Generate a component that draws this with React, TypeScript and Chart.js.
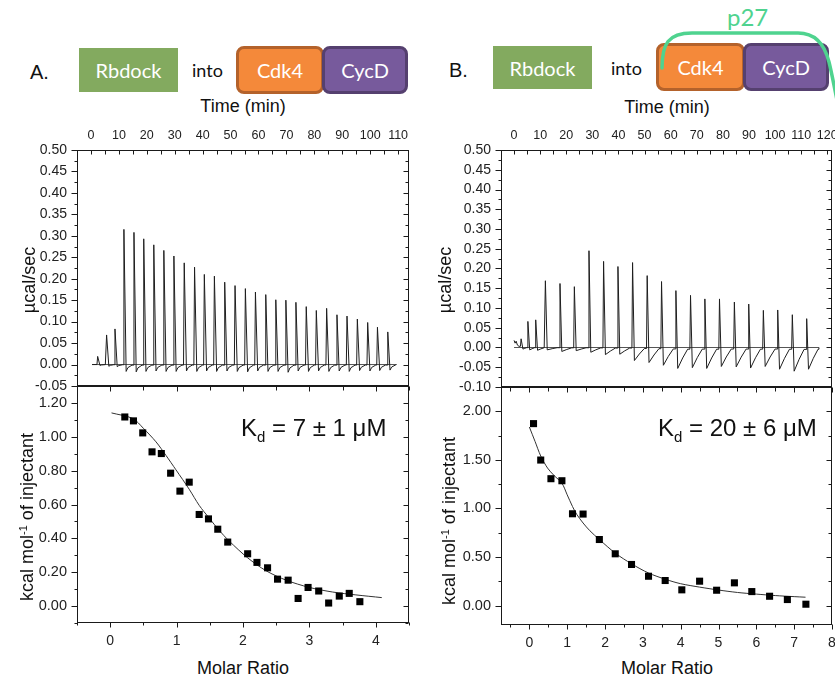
import React, { useEffect, useRef } from "react";
import { Chart, registerables } from "chart.js";

Chart.register(...registerables);

// ---------------- DATA ----------------
// Tick labels
const timeTicksA = [0, 10, 20, 30, 40, 50, 60, 70, 80, 90, 100, 110];
const timeTicksB = [0, 10, 20, 30, 40, 50, 60, 70, 80, 90, 100, 110, 120];
const powerTicksA = [-0.05, 0, 0.05, 0.1, 0.15, 0.2, 0.25, 0.3, 0.35, 0.4, 0.45, 0.5];
const powerTicksB = [-0.1, -0.05, 0, 0.05, 0.1, 0.15, 0.2, 0.25, 0.3, 0.35, 0.4, 0.45, 0.5];
const heatTicksA = [0, 0.2, 0.4, 0.6, 0.8, 1.0, 1.2];
const heatTicksB = [0, 0.5, 1.0, 1.5, 2.0];
const ratioTicksA = [0, 1, 2, 3, 4];
const ratioTicksB = [0, 1, 2, 3, 4, 5, 6, 7, 8];

// Panel A thermogram (time in min, peak heights in µcal/sec)
const traceStartA = 0.4;
const traceEndA = 109.4;
const injTimesA = [2.3, 5.5, 8.5, 11.7, 15.3, 18.8, 22.4, 26.0, 29.6, 33.3, 37.0, 40.5, 44.1, 47.8, 51.5, 55.2, 58.8, 62.5, 66.1, 69.7, 73.3, 77.0, 80.6, 84.3, 88.0, 91.6, 95.3, 99.0, 102.5, 106.2];
const peakHeightsA = [0.019, 0.069, 0.083, 0.315, 0.308, 0.293, 0.279, 0.266, 0.253, 0.237, 0.227, 0.21, 0.206, 0.192, 0.184, 0.177, 0.169, 0.163, 0.151, 0.15, 0.145, 0.135, 0.126, 0.131, 0.116, 0.113, 0.106, 0.098, 0.087, 0.076];
const dipDepthsA = [-0.002, -0.004, -0.005, -0.016, -0.017, -0.016, -0.015, -0.016, -0.016, -0.015, -0.016, -0.015, -0.016, -0.015, -0.016, -0.017, -0.015, -0.016, -0.016, -0.018, -0.015, -0.016, -0.015, -0.016, -0.015, -0.016, -0.014, -0.015, -0.014, -0.013];

// Panel B thermogram
const traceEndB = 116.8;
const preTimesB = [0.0, 0.4, 0.8, 1.3, 1.9];
const preValuesB = [0.018, 0.011, 0.016, 0.006, 0.003];
const injTimesB = [2.6, 5.2, 8.2, 11.9, 17.5, 23.0, 28.6, 34.2, 39.7, 45.3, 50.9, 56.4, 61.9, 67.5, 73.0, 78.6, 84.3, 89.8, 95.4, 100.9, 106.5, 112.0];
const peakHeightsB = [0.022, 0.066, 0.07, 0.169, 0.162, 0.154, 0.245, 0.218, 0.205, 0.215, 0.182, 0.167, 0.144, 0.132, 0.123, 0.123, 0.115, 0.11, 0.094, 0.095, 0.083, 0.073];
const dipDepthsB = [-0.004, -0.006, -0.007, -0.006, -0.01, -0.008, -0.012, -0.018, -0.017, -0.033, -0.038, -0.045, -0.053, -0.051, -0.053, -0.048, -0.049, -0.052, -0.048, -0.055, -0.06, -0.055];

// Panel A isotherm
const ratioA = [0.22, 0.35, 0.49, 0.63, 0.77, 0.91, 1.05, 1.19, 1.34, 1.48, 1.62, 1.77, 2.07, 2.21, 2.37, 2.52, 2.68, 2.83, 2.98, 3.14, 3.29, 3.45, 3.6, 3.76];
const heatA = [1.117, 1.094, 1.023, 0.911, 0.901, 0.785, 0.679, 0.732, 0.541, 0.515, 0.454, 0.378, 0.309, 0.258, 0.226, 0.159, 0.153, 0.045, 0.11, 0.089, 0.018, 0.059, 0.075, 0.026];
const fitRatioA = [0.02, 0.34, 0.5, 0.69, 0.84, 0.99, 1.19, 1.34, 1.49, 1.64, 1.79, 2.07, 2.35, 2.65, 3.0, 3.35, 3.7, 4.09];
const fitHeatA = [1.141, 1.108, 1.05, 0.97, 0.89, 0.805, 0.69, 0.595, 0.52, 0.448, 0.385, 0.285, 0.208, 0.153, 0.11, 0.083, 0.066, 0.05];

// Panel B isotherm
const ratioB = [0.11, 0.3, 0.57, 0.86, 1.14, 1.42, 1.85, 2.27, 2.7, 3.15, 3.59, 4.03, 4.5, 4.95, 5.42, 5.88, 6.35, 6.82, 7.31];
const heatB = [1.873, 1.498, 1.306, 1.285, 0.945, 0.942, 0.68, 0.533, 0.423, 0.302, 0.258, 0.162, 0.251, 0.158, 0.234, 0.144, 0.096, 0.062, 0.014];
const fitRatioB = [0.0, 0.15, 0.3, 0.48, 0.65, 0.86, 1.0, 1.14, 1.25, 1.42, 1.6, 1.85, 2.27, 2.7, 3.15, 3.6, 4.0, 4.5, 5.0, 5.5, 6.0, 6.5, 7.0, 7.3];
const fitHeatB = [1.838, 1.69, 1.54, 1.416, 1.34, 1.26, 1.14, 1.02, 0.94, 0.85, 0.77, 0.68, 0.54, 0.43, 0.335, 0.27, 0.225, 0.19, 0.16, 0.135, 0.118, 0.103, 0.092, 0.086];

// ---------------- HELPERS ----------------
const FONT = "'Liberation Sans', Arial, Helvetica, sans-serif";
const BOXFONT = "Lato, 'Open Sans', sans-serif";
const INK = "#1a1a1a";

const range = (a: number, b: number, s: number) => {
  const out: number[] = [];
  for (let v = a; v <= b + 1e-9; v += s) out.push(Math.round(v * 1000) / 1000);
  return out;
};

type Pt = { x: number; y: number };

function buildTrace(
  start: number, end: number, times: number[], heights: number[], dips: number[],
  pre: Pt[], fall: number, rec: number, midFrac: number, midLevel: number
): Pt[] {
  const pts: Pt[] = pre.length ? [...pre] : [{ x: start, y: 0 }];
  let rest = pts[pts.length - 1].y;
  times.forEach((t, i) => {
    const next = i + 1 < times.length ? times[i + 1] : end;
    const r = Math.min(rec, next - t - 0.35);
    const f = Math.min(fall, r * 0.4);
    pts.push({ x: t - 0.15, y: rest });
    pts.push({ x: t + 0.1, y: heights[i] });
    pts.push({ x: t + f, y: dips[i] });
    pts.push({ x: t + f + (r - f) * midFrac, y: dips[i] * midLevel });
    pts.push({ x: t + r, y: dips[i] * 0.08 });
    rest = dips[i] * 0.08;
  });
  pts.push({ x: end, y: 0 });
  return pts;
}

const zip = (xs: number[], ys: number[]): Pt[] => xs.map((x, i) => ({ x, y: ys[i] }));

type Side = { major: number[]; minor: number[]; dir: "in" | "out"; majorLen: number; minorLen: number };
type FrameCfg = { id: string; xId: string; yId: string; left: Side; right: Side; top?: Side; bottom?: Side };

function framePlugin(cfg: FrameCfg) {
  return {
    id: "frame_" + cfg.id,
    afterDraw(chart: any) {
      const { ctx, chartArea: a } = chart;
      const xs = chart.scales[cfg.xId];
      const ys = chart.scales[cfg.yId];
      const l = Math.round(a.left) + 0.5;
      const r = Math.round(a.right) - 0.5;
      const t = Math.round(a.top) + 0.5;
      const b = Math.round(a.bottom) - 0.5;
      ctx.save();
      ctx.strokeStyle = INK;
      ctx.lineWidth = 1;
      ctx.strokeRect(l, t, r - l, b - t);
      ctx.beginPath();
      const hTicks = (side: Side | undefined, y0: number, sign: number) => {
        if (!side) return;
        ([[side.major, side.majorLen], [side.minor, side.minorLen]] as [number[], number][]).forEach(([vals, len]) => {
          vals.forEach((v) => {
            if (v < xs.min - 1e-9 || v > xs.max + 1e-9) return;
            const x = Math.round(xs.getPixelForValue(v)) + 0.5;
            ctx.moveTo(x, y0);
            ctx.lineTo(x, y0 + sign * len);
          });
        });
      };
      const vTicks = (side: Side | undefined, x0: number, sign: number) => {
        if (!side) return;
        ([[side.major, side.majorLen], [side.minor, side.minorLen]] as [number[], number][]).forEach(([vals, len]) => {
          vals.forEach((v) => {
            if (v < ys.min - 1e-9 || v > ys.max + 1e-9) return;
            const y = Math.round(ys.getPixelForValue(v)) + 0.5;
            ctx.moveTo(x0, y);
            ctx.lineTo(x0 + sign * len, y);
          });
        });
      };
      hTicks(cfg.top, t, cfg.top && cfg.top.dir === "in" ? 1 : -1);
      hTicks(cfg.bottom, b, cfg.bottom && cfg.bottom.dir === "in" ? -1 : 1);
      vTicks(cfg.left, l, cfg.left.dir === "in" ? 1 : -1);
      vTicks(cfg.right, r, cfg.right.dir === "in" ? -1 : 1);
      ctx.stroke();
      ctx.restore();
    },
  };
}

type Geo = { cx: number; cy: number; cw: number; ch: number; L: number; T: number; R: number; B: number };

const GEO: Record<string, Geo> = {
  aTop: { cx: 0, cy: 110, cw: 420, ch: 285, L: 77, T: 150, R: 409, B: 386 },
  aBot: { cx: 0, cy: 380, cw: 420, ch: 301, L: 77, T: 386, R: 409, B: 623 },
  bTop: { cx: 420, cy: 110, cw: 430, ch: 285, L: 501, T: 150, R: 832, B: 387 },
  bBot: { cx: 420, cy: 380, cw: 430, ch: 301, L: 501, T: 387, R: 832, B: 625 },
};

const baseScale = (min: number, max: number, ticks: number[], fmt: (v: number) => string, size: number, padding: number) => ({
  type: "linear" as const,
  min,
  max,
  grid: { display: false, drawTicks: false },
  border: { display: false },
  ticks: {
    autoSkip: false,
    maxRotation: 0,
    padding,
    color: "#222",
    font: { family: FONT, size },
    callback: (v: any) => fmt(Number(v)),
  },
  afterBuildTicks: (s: any) => {
    s.ticks = ticks.map((value) => ({ value }));
  },
});

function thermogramConfig(g: Geo, id: string, trace: Pt[], baseline: Pt[], tMin: number, tMax: number, yMin: number, yMax: number, tTicks: number[], yTicks: number[]) {
  const yMinor = yTicks.slice(0, -1).map((v, i) => Math.round(((v + yTicks[i + 1]) / 2) * 10000) / 10000);
  const frame: FrameCfg = {
    id,
    xId: "xt",
    yId: "y",
    top: { major: range(0, tMax, 5), minor: [], dir: "in", majorLen: 4, minorLen: 4 },
    left: { major: yTicks, minor: yMinor, dir: "out", majorLen: 6, minorLen: 3 },
    right: { major: yTicks, minor: yMinor, dir: "in", majorLen: 5, minorLen: 3 },
  };
  return {
    type: "line" as const,
    data: {
      datasets: [
        { data: trace, borderColor: "#1e1e1e", borderWidth: 1, pointRadius: 0, tension: 0, xAxisID: "xt", yAxisID: "y" },
        { data: baseline, borderColor: "#555", borderWidth: 1, pointRadius: 0, tension: 0, xAxisID: "xt", yAxisID: "y" },
      ],
    },
    options: {
      responsive: false,
      animation: false as const,
      events: [],
      layout: { padding: { left: 0, top: 0, right: g.cw - (g.R - g.cx), bottom: g.ch - (g.B - g.cy) } },
      plugins: { legend: { display: false }, tooltip: { enabled: false } },
      scales: {
        xt: {
          ...baseScale(tMin, tMax, tTicks, (v) => String(Math.round(v)), 12.5, 7),
          position: "top" as const,
          afterFit: (s: any) => {
            s.height = g.T - g.cy;
            s.paddingLeft = 0;
            s.paddingRight = 0;
          },
        },
        y: {
          ...baseScale(yMin, yMax, yTicks, (v) => v.toFixed(2), 14, 10),
          position: "left" as const,
          afterFit: (s: any) => {
            s.width = g.L - g.cx;
            s.paddingTop = 0;
            s.paddingBottom = 0;
          },
        },
      },
    },
    plugins: [framePlugin(frame)],
  };
}

function isothermConfig(g: Geo, id: string, pts: Pt[], fit: Pt[], xMin: number, xMax: number, yMin: number, yMax: number, xTicks: number[], yTicks: number[], yMinor: number[]) {
  const xMinor = xTicks.map((v) => v - 0.5).concat([xTicks[xTicks.length - 1] + 0.5]);
  const xSide = (dir: "in" | "out", ml: number, nl: number): Side => ({ major: xTicks, minor: xMinor, dir, majorLen: ml, minorLen: nl });
  const frame: FrameCfg = {
    id,
    xId: "xb",
    yId: "y",
    top: xSide("in", 5, 4),
    bottom: xSide("out", 5, 3),
    left: { major: yTicks, minor: yMinor, dir: "out", majorLen: 6, minorLen: 3 },
    right: { major: yTicks, minor: yMinor, dir: "in", majorLen: 5, minorLen: 3 },
  };
  const axisH = 30;
  return {
    type: "scatter" as const,
    data: {
      datasets: [
        { type: "scatter" as const, data: pts, pointStyle: "rect", pointRadius: 5, backgroundColor: "#000", borderColor: "#000", borderWidth: 0, xAxisID: "xb", yAxisID: "y" },
        { type: "line" as const, data: fit, borderColor: "#333", borderWidth: 1, pointRadius: 0, tension: 0.3, xAxisID: "xb", yAxisID: "y" },
      ],
    },
    options: {
      responsive: false,
      animation: false as const,
      events: [],
      layout: { padding: { left: 0, top: g.T - g.cy, right: g.cw - (g.R - g.cx), bottom: g.ch - (g.B - g.cy) - axisH } },
      plugins: { legend: { display: false }, tooltip: { enabled: false } },
      scales: {
        xb: {
          ...baseScale(xMin, xMax, xTicks, (v) => String(Math.round(v)), 14, 10),
          position: "bottom" as const,
          afterFit: (s: any) => {
            s.height = axisH;
            s.paddingLeft = 0;
            s.paddingRight = 0;
          },
        },
        y: {
          ...baseScale(yMin, yMax, yTicks, (v) => v.toFixed(2), 14.5, 10),
          position: "left" as const,
          afterFit: (s: any) => {
            s.width = g.L - g.cx;
            s.paddingTop = 0;
            s.paddingBottom = 0;
          },
        },
      },
    },
    plugins: [framePlugin(frame)],
  };
}

function ChartCanvas({ g, build }: { g: Geo; build: () => any }) {
  const ref = useRef<HTMLCanvasElement>(null);
  useEffect(() => {
    const chart = new Chart(ref.current as HTMLCanvasElement, build());
    return () => chart.destroy();
  }, []);
  return (
    <canvas
      ref={ref}
      width={g.cw}
      height={g.ch}
      style={{ position: "absolute", left: g.cx, top: g.cy, width: g.cw, height: g.ch }}
    />
  );
}

const abs = (left: number, top: number, extra: React.CSSProperties = {}): React.CSSProperties => ({
  position: "absolute",
  left,
  top,
  whiteSpace: "nowrap",
  ...extra,
});

function Rotated({ cx, cy, children }: { cx: number; cy: number; children: React.ReactNode }) {
  return (
    <div
      style={{
        position: "absolute",
        left: cx,
        top: cy,
        transform: "translate(-50%, -50%) rotate(-90deg)",
        font: `18px ${FONT}`,
        lineHeight: "18px",
        color: "#111",
        whiteSpace: "nowrap",
      }}
    >
      {children}
    </div>
  );
}

function Box({ left, top, w, h, bg, border, label }: { left: number; top: number; w: number; h: number; bg: string; border?: string; label: string }) {
  return (
    <div
      style={{
        position: "absolute",
        left,
        top,
        width: w,
        height: h,
        boxSizing: "border-box",
        background: bg,
        border: border ? `3px solid ${border}` : "none",
        borderRadius: border ? 8 : 0,
        color: "#fff",
        font: `20px ${BOXFONT}`,
        display: "flex",
        alignItems: "center",
        justifyContent: "center",
      }}
    >
      {label}
    </div>
  );
}

function Kd({ left, value }: { left: number; value: string }) {
  return (
    <div style={abs(left, 416, { font: `24px ${FONT}`, lineHeight: "24px", color: "#111" })}>
      K<span style={{ fontSize: 15, position: "relative", top: 6 }}>d</span> = {value}
    </div>
  );
}

export default function App() {
  const traceA = buildTrace(traceStartA, traceEndA, injTimesA, peakHeightsA, dipDepthsA, [], 0.9, 3.0, 0.3, 0.45);
  const baseA = [{ x: traceStartA, y: 0 }, { x: traceEndA, y: 0 }];
  const preB = zip(preTimesB, preValuesB);
  const traceB = buildTrace(0, traceEndB, injTimesB, peakHeightsB, dipDepthsB, preB, 0.8, 4.6, 0.5, 0.5);
  const baseB = [{ x: 0, y: 0 }, { x: traceEndB, y: 0 }];

  const GREEN = "#83AA5F";
  const ORANGE = "#F4893A";
  const ORANGE_B = "#B4622B";
  const PURPLE = "#775A9C";
  const PURPLE_B = "#55406F";
  const MINT = "#4FD38F";

  return (
    <div style={{ position: "absolute", left: 0, top: 0, width: 835, height: 681, overflow: "hidden", background: "#fff" }}>
      {/* Header A */}
      <div style={abs(30, 62, { font: `20px ${FONT}`, lineHeight: "20px", color: "#111" })}>A.</div>
      <Box left={79} top={48} w={99} h={44} bg={GREEN} label="Rbdock" />
      <div style={abs(192, 61, { font: `18px ${BOXFONT}`, lineHeight: "18px", color: "#111" })}>into</div>
      <Box left={236} top={46} w={88} h={48} bg={ORANGE} border={ORANGE_B} label="Cdk4" />
      <Box left={322} top={46} w={86} h={48} bg={PURPLE} border={PURPLE_B} label="CycD" />

      {/* Header B */}
      <div style={abs(449, 60, { font: `20px ${FONT}`, lineHeight: "20px", color: "#111" })}>B.</div>
      <Box left={493} top={46} w={99} h={43} bg={GREEN} label="Rbdock" />
      <div style={abs(611, 59, { font: `18px ${BOXFONT}`, lineHeight: "18px", color: "#111" })}>into</div>
      <Box left={656} top={43} w={89} h={48} bg={ORANGE} border={ORANGE_B} label="Cdk4" />
      <Box left={743} top={43} w={86} h={48} bg={PURPLE} border={PURPLE_B} label="CycD" />
      <svg width={835} height={120} style={{ position: "absolute", left: 0, top: 0, overflow: "visible" }}>
        <path
          d="M 662 68 C 662 44 668 33 692 33 L 798 33 C 817 33 825 46 829 62 C 832 74 834 86 837 100"
          fill="none"
          stroke={MINT}
          strokeWidth={3.5}
          strokeLinecap="round"
        />
      </svg>
      <div style={abs(727, 5, { font: `24px ${BOXFONT}`, lineHeight: "24px", color: MINT })}>p27</div>

      {/* Axis titles */}
      <div style={abs(243, 97, { font: `18px ${FONT}`, lineHeight: "18px", color: "#111", transform: "translateX(-50%)" })}>Time (min)</div>
      <div style={abs(667, 98, { font: `18px ${FONT}`, lineHeight: "18px", color: "#111", transform: "translateX(-50%)" })}>Time (min)</div>
      <div style={abs(243, 659, { font: `18px ${FONT}`, lineHeight: "18px", color: "#111", transform: "translateX(-50%)" })}>Molar Ratio</div>
      <div style={abs(667, 659, { font: `18px ${FONT}`, lineHeight: "18px", color: "#111", transform: "translateX(-50%)" })}>Molar Ratio</div>

      <ChartCanvas g={GEO.aTop} build={() => thermogramConfig(GEO.aTop, "aTop", traceA, baseA, -5, 113.9, -0.05, 0.5, timeTicksA, powerTicksA)} />
      <ChartCanvas g={GEO.bTop} build={() => thermogramConfig(GEO.bTop, "bTop", traceB, baseB, -5, 121.8, -0.1, 0.5, timeTicksB, powerTicksB)} />
      <ChartCanvas
        g={GEO.aBot}
        build={() => isothermConfig(GEO.aBot, "aBot", zip(ratioA, heatA), zip(fitRatioA, fitHeatA), -0.5, 4.5, -0.1, 1.3, ratioTicksA, heatTicksA, [-0.1, 0.1, 0.3, 0.5, 0.7, 0.9, 1.1, 1.3])}
      />
      <ChartCanvas
        g={GEO.bBot}
        build={() => isothermConfig(GEO.bBot, "bBot", zip(ratioB, heatB), zip(fitRatioB, fitHeatB), -0.75, 8, -0.2, 2.25, ratioTicksB, heatTicksB, [0.25, 0.75, 1.25, 1.75, 2.25])}
      />

      <Rotated cx={29} cy={280}>µcal/sec</Rotated>
      <Rotated cx={445} cy={280}>µcal/sec</Rotated>
      <Rotated cx={27} cy={517}>
        kcal mol<sup style={{ fontSize: 11, verticalAlign: "6px", lineHeight: 0 }}>-1</sup> of injectant
      </Rotated>
      <Rotated cx={449} cy={521}>
        kcal mol<sup style={{ fontSize: 11, verticalAlign: "6px", lineHeight: 0 }}>-1</sup> of injectant
      </Rotated>

      <Kd left={241} value="7 ± 1 μM" />
      <Kd left={658} value="20 ± 6 μM" />
    </div>
  );
}
